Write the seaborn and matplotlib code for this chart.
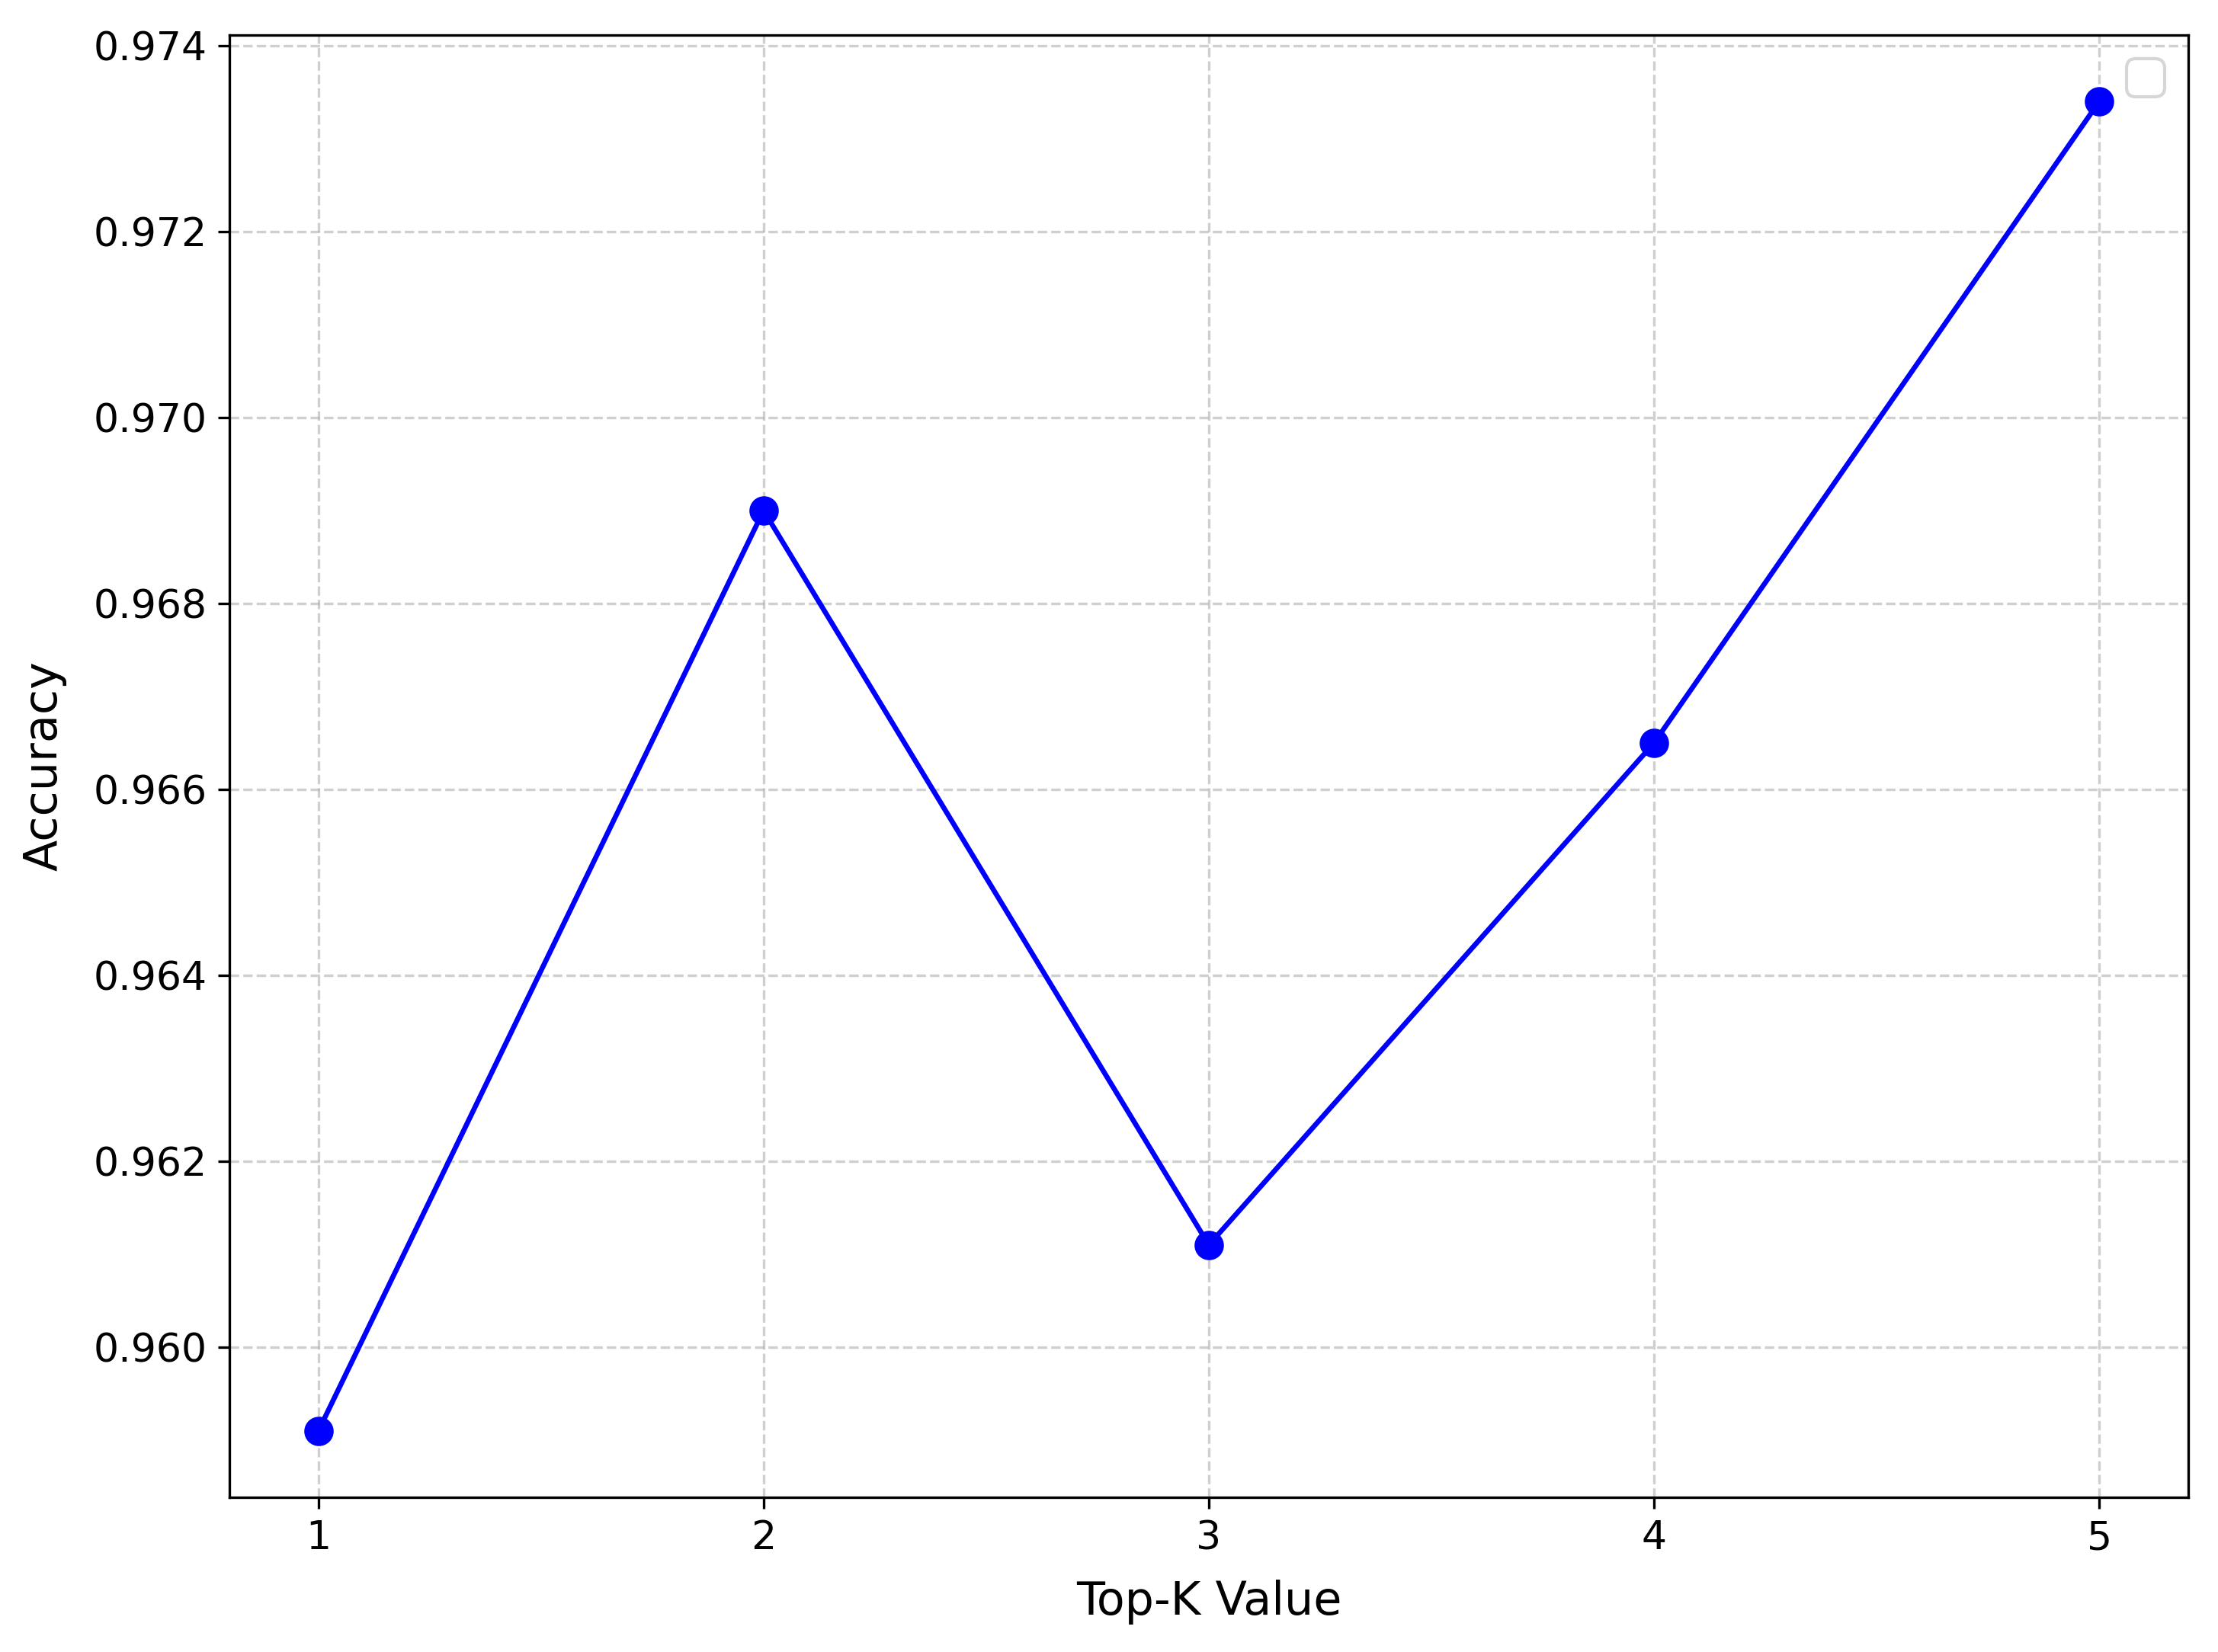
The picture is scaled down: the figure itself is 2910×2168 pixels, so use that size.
import matplotlib
matplotlib.use("Agg")
import matplotlib.pyplot as plt
import pandas as pd
import seaborn as sns

# data
top_k = [1, 2, 3, 4, 5]
accuracy = [0.9591, 0.9690, 0.9611, 0.9665, 0.9734]

df = pd.DataFrame({"top_k": top_k, "accuracy": accuracy})

plt.rcParams["font.family"] = ["DejaVu Sans"]

fig = plt.figure(figsize=(9.7, 7.2267), dpi=300)
ax = fig.add_axes([0.1034, 0.0936, 0.8832, 0.8852])

sns.lineplot(
    data=df,
    x="top_k",
    y="accuracy",
    marker="o",
    color="blue",
    linewidth=1.6,
    markersize=8.5,
    markeredgecolor="blue",
    ax=ax,
)

ax.set_xticks(top_k)
ax.tick_params(labelsize=12.5)
ax.set_xlabel("Top-K Value", fontsize=14.5, labelpad=7)
ax.set_ylabel("Accuracy", fontsize=14.5, labelpad=8.5)
ax.grid(True, linestyle="--", alpha=0.6)
# the original calls legend() with no labelled artists -> empty box
ax.legend(handles=[], loc="upper right", fontsize=15)

fig.savefig("out.png", dpi=300, facecolor="white")
